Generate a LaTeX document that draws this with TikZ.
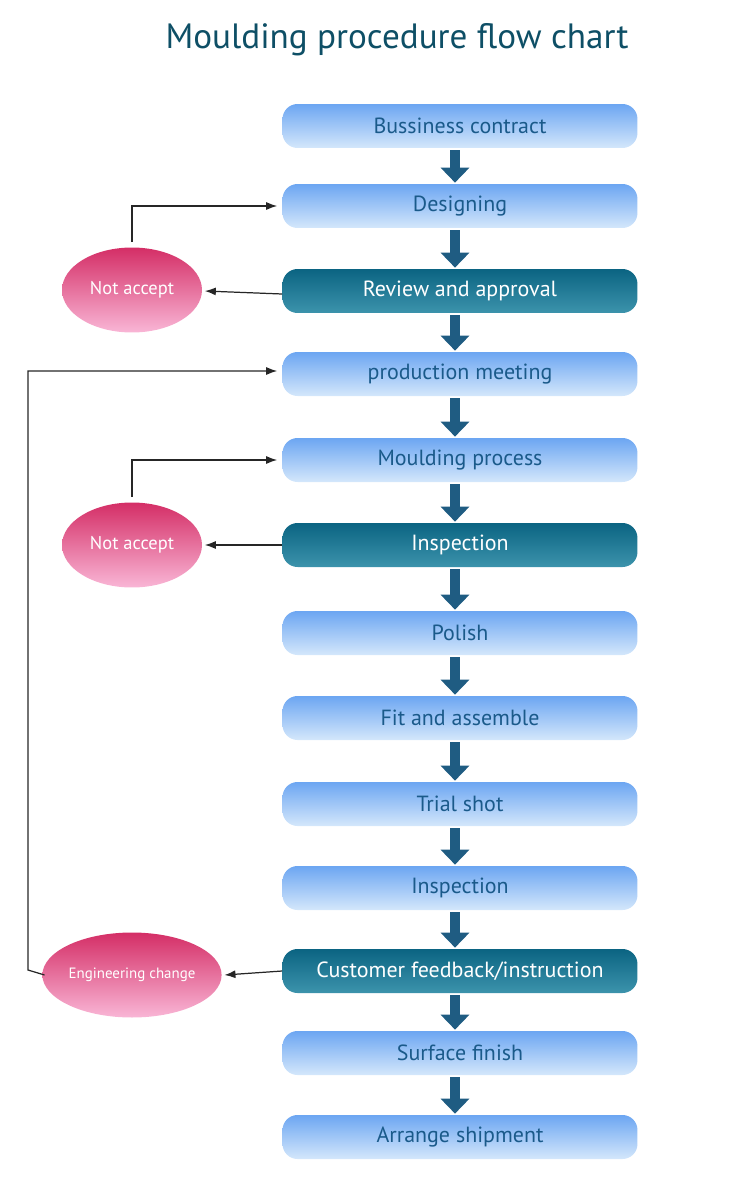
\documentclass[tikz,border=0pt]{standalone}
\usepackage{fontspec}
\setmainfont{PT Sans}
\usetikzlibrary{arrows.meta,shapes.geometric}
\definecolor{txt}{HTML}{1A5A8A}
\definecolor{ttl}{HTML}{0E4F66}
\definecolor{arr}{HTML}{1F5C82}
\definecolor{bt}{HTML}{6CA6F2}
\definecolor{bb}{HTML}{D4E7FB}
\definecolor{dt}{HTML}{0B6482}
\definecolor{db}{HTML}{3C93AC}
\definecolor{et}{HTML}{D42E66}
\definecolor{eb}{HTML}{F9B6D6}
\begin{document}
\begin{tikzpicture}[x=0.02cm,y=-0.02cm,
 box/.style={rounded corners=0.3cm,minimum width=7.1cm,minimum height=0.88cm,top color=bt,bottom color=bb,font=\fontsize{12.5}{14}\selectfont,text=txt},
 dbox/.style={box,top color=dt,bottom color=db,text=white},
 ell/.style={ellipse,minimum width=2.8cm,minimum height=1.7cm,top color=et,bottom color=eb,text=white,font=\fontsize{10.5}{12}\selectfont,inner sep=0pt},
 blk/.style={-{Triangle[width=0.56cm,length=0.3cm]},line width=0.2cm,arr},
 thin/.style={-{Latex[length=0.22cm,width=0.16cm]},line width=0.7pt,black!85}]
\useasboundingbox (0,0) rectangle (750,1200);
\node[ttl,font=\fontsize{20}{24}\selectfont] (title) at (397,40) {Moulding procedure flow chart};
\node[box]  (b1) at (460,126) {Bussiness contract};
\node[box]  (b2) at (460,206) {Designing};
\node[dbox] (b3) at (460,291) {Review and approval};
\node[box]  (b4) at (460,374) {production meeting};
\node[box]  (b5) at (460,460) {Moulding process};
\node[dbox] (b6) at (460,545) {Inspection};
\node[box]  (b7) at (460,633) {Polish};
\node[box]  (b8) at (460,718) {Fit and assemble};
\node[box]  (b9) at (460,804) {Trial shot};
\node[box]  (b10) at (460,888) {Inspection};
\node[dbox] (b11) at (460,971) {Customer feedback/instruction};
\node[box]  (b12) at (460,1053) {Surface finish};
\node[box]  (b13) at (460,1137) {Arrange shipment};
\foreach \a/\b in {b1/b2,b2/b3,b3/b4,b4/b5,b5/b6,b6/b7,b7/b8,b8/b9,b9/b10,b10/b11,b11/b12,b12/b13}
  \draw[blk] ([xshift=-0.1cm,yshift=-0.04cm]\a.south) -- ([xshift=-0.1cm,yshift=0.02cm]\b.north);
\node[ell] (e1) at (132,290) {Not accept};
\node[ell] (e2) at (132,545) {Not accept};
\node[ell,font=\fontsize{8.5}{10}\selectfont] (e3) at (132,975) {Engineering change};
\draw[thin] ([yshift=-0.06cm]b3.west) -- ([xshift=0.05cm]b3.west -| e1.east);
\draw[thin] (b6.west) -- ([xshift=0.05cm]e2.east);
\draw[thin] (b11.west) -- ([xshift=0.05cm]e3.east);
\draw[thin] ([yshift=0.1cm]e1.north) |- ([xshift=-0.1cm]b2.west);
\draw[thin] ([yshift=0.1cm]e2.north) |- ([xshift=-0.1cm]b5.west);
\coordinate (c1) at (28,970);
\draw[thin] ([xshift=0.05cm]e3.west) -- (c1) |- ([xshift=-0.1cm,yshift=0.06cm]b4.west);
\end{tikzpicture}
\end{document}
